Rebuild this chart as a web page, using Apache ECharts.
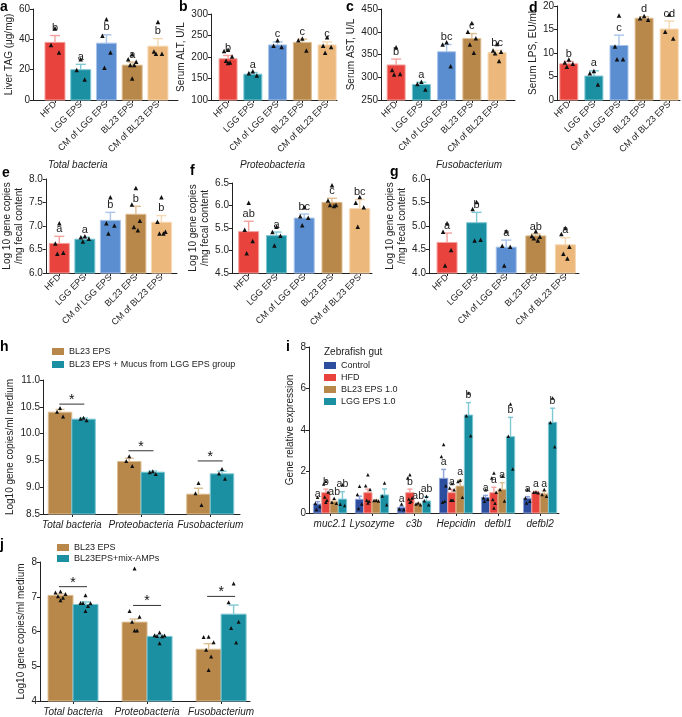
<!DOCTYPE html>
<html><head><meta charset="utf-8">
<script src="https://cdn.jsdelivr.net/npm/echarts@6/dist/echarts.min.js"></script>
<style>html,body{margin:0;padding:0;background:#fff}#c{width:682px;height:717px}</style>
</head><body><div id="c"></div>
<script>
// ---------- data ----------
const groups = ['HFD','LGG EPS','CM of LGG EPS','BL23 EPS','CM of BL23 EPS'];

const aMean = [38, 20, 37.5, 23, 35.5];
const aErr  = [4.5, 3.5, 5.5, 2, 5];
const aPts  = [[47,36,31],[26.5,19.5,13.2],[53,42,31,21],[29.8,26.5,25,22.7,22.7,13.9],[51.2,31.6,30.2,30.2]];
const aLet  = ['b','a','b','a','b'];

const bMean = [196, 160, 228, 234, 228];
const bErr  = [7.5, 4, 7, 7.5, 7];
const bPts  = [[216,213,200,190,186,185],[166,161,156],[238,225,222],[242,238,214],[245,225,222,209]];
const bLet  = ['b','a','c','c','c'];

const cMean = [327, 284, 356, 385, 354];
const cErr  = [13, 5, 16, 11, 5];
const cPts  = [[365,315,306,305],[289,284,272],[376,371,323],[418,399,385,371,353],[372,358,355,352,335]];
const cLet  = ['b','a','bc','c','bc'];

const dMean = [7.7, 5.1, 11.6, 17.4, 15.1];
const dErr  = [0.5, 1.1, 2.2, 0.35, 1.7];
const dPts  = [[8.5,7.9,7.6,7.0],[6.1,5.6,3.2],[17.9,11.3,8.6,8.6],[17.8,17.3,17.0],[18.1,14.4,13.0]];
const dLet  = ['b','a','c','d','cd'];

const eMean = [6.63, 6.72, 7.12, 7.25, 7.08];
const eErr  = [0.15, 0.04, 0.17, 0.17, 0.14];
const ePts  = [[7.05,6.62,6.42,6.40],[6.77,6.75,6.72,6.66],[7.6,7.05,7.0,6.83],[7.8,7.45,7.1,6.97,6.9],[7.6,7.08,6.87,6.83,6.83]];
const eLet  = ['a','a','b','b','b'];

const fMean = [5.42, 5.33, 5.72, 6.07, 5.93];
const fErr  = [0.23, 0.08, 0.09, 0.09, 0.2];
const fPts  = [[6.05,5.45,5.2,4.93],[5.52,5.4,5.32,5.1],[5.95,5.75,5.72,5.55],[6.44,6.1,6.0,6.0,5.98],[6.18,6.05,5.95,5.52]];
const fLet  = ['ab','a','bc','c','bc'];

const gMean = [4.65, 5.07, 4.55, 4.79, 4.6];
const gErr  = [0.2, 0.22, 0.15, 0.04, 0.15];
const gPts  = [[5.05,4.87,4.48,4.15],[5.5,5.35,4.7,4.68],[4.88,4.57,4.55,4.15],[4.88,4.78,4.76,4.73,4.68],[4.95,4.82,4.55,4.4,4.3]];
const gLet  = ['a','b','a','ab','a'];

const hCats   = ['Total bacteria','Proteobacteria','Fusobacterium'];
const hBl     = [10.40, 9.48, 8.87];
const hBlErr  = [0.05, 0.06, 0.11];
const hBlPts  = [[10.47,10.40,10.31],[9.57,9.48,9.39],[9.07,8.88,8.66]];
const hMu     = [10.27, 9.28, 9.25];
const hMuErr  = [0.02, 0.02, 0.05];
const hMuPts  = [[10.29,10.27,10.24],[9.29,9.27,9.24],[9.33,9.25,9.15]];
const hSig    = [10.55, 9.68, 9.49];

const iCats   = ['muc2.1','Lysozyme','c3b','Hepcidin','defbl1','defbl2'];
const iCtrl   = [0.43, 0.66, 0.26, 1.67, 0.75, 0.71];
const iCtrlErr= [0.12, 0.15, 0.06, 0.43, 0.10, 0.08];
const iCtrlPts= [[0.74,0.45,0.3,0.15],[1.27,0.87,0.42,0.2],[0.42,0.18,0.15],[3.28,2.71,1.3,0.5,0.55],[1.1,0.72,0.65,0.55],[1.11,0.71,0.55,0.47]];
const iCtrlLet= ['a','','a','a','a','a'];
const iHfd    = [0.98, 0.98, 0.98, 0.98, 0.98, 0.98];
const iHfdErr = [0.17, 0.17, 0.17, 0.15, 0.26, 0.06];
const iHfdPts = [[1.51,1.38,1.0,0.75,0.6,0.5],[1.83,1.3,1.11,0.6,0.55,0.47],[1.83,1.67,0.71,0.66,0.55,0.5],[1.4,1.19,1.1,0.6,0.6,0.6],[1.91,1.67,0.98,0.63,0.45,0.22],[1.0,0.98,0.96]];
const iHfdLet = ['b','','b','a','a','a'];
const iBl     = [0.55, 0.58, 0.42, 1.30, 1.14, 0.92];
const iBlErr  = [0.08, 0.05, 0.05, 0.29, 0.32, 0.12];
const iBlPts  = [[0.7,0.5,0.45],[0.6,0.58,0.56],[0.47,0.42,0.38],[1.56,1.5,0.74],[1.75,1.11,0.56],[1.11,0.87,0.79]];
const iBlLet  = ['ab','','ab','a','a','a'];
const iLgg    = [0.67, 0.87, 0.58, 4.72, 3.68, 4.37];
const iLggErr = [0.36, 0.29, 0.20, 0.60, 0.93, 0.68];
const iLggPts = [[1.35,0.4,0.35],[1.43,0.8,0.38],[0.79,0.57,0.38],[5.77,4.67,3.71],[5.24,3.68,2.1],[5.53,4.35,3.17]];
const iLggLet = ['ab','','ab','b','b','b'];

const jCats   = ['Total bacteria','Proteobacteria','Fusobacterium'];
const jBl     = [7.04, 6.27, 5.49];
const jBlErr  = [0.04, 0.09, 0.16];
const jBlPts  = [[7.14,7.11,7.07,7.0,6.96,6.89],[7.8,6.58,6.41,6.27,6.02,6.02],[5.84,5.83,5.68,5.46,5.27,4.88]];
const jMix    = [6.78, 5.86, 6.50];
const jMixErr = [0.07, 0.03, 0.26];
const jMixPts = [[7.03,6.81,6.8,6.81,6.72,6.58],[5.96,5.88,5.87,5.86,5.85,5.65],[7.37,6.83,6.27,6.09,5.67]];
const jSig    = [7.29, 6.75, 7.01];

// ---------- style ----------
const C = {red:'#E8443D', teal:'#1C90A3', blue:'#5B8ED0', tan:'#B8874A', peach:'#EDB87C', navy:'#2D4E9E'};
const L = {'#E8443D':'#F4A29E','#1C90A3':'#7FC8D4','#5B8ED0':'#A9C4EA','#B8874A':'#DEBE93','#EDB87C':'#F6D7B2','#2D4E9E':'#8DA2D8'};
const FONT = 'Liberation Sans, Arial, sans-serif';
const topCols = [C.red, C.teal, C.blue, C.tan, C.peach];

const grids = [
 {left:33, top:9, width:145, height:91},
 {left:211, top:14, width:126, height:86},
 {left:381, top:9, width:134, height:91},
 {left:557, top:6, width:123, height:94},
 {left:40, top:179, width:137, height:94},
 {left:232, top:183, width:140, height:90},
 {left:429, top:179, width:150, height:94},
 {left:43, top:380, width:197, height:134},
 {left:309, top:347, width:250, height:166},
 {left:40, top:562, width:210, height:144}
];
const xr = [[-0.854,4.78],[-0.69,4.40],[-0.6,4.71],[-0.47,4.43],[-0.53,4.61],[-0.6,4.44],[-0.61,4.46],[-0.416,2.43],[-0.5,5.45],[-0.446,2.39]];
const yr = [[0,60,20],[100,300,50],[250,450,50],[0,20,5],[6,8,0.5],[4.5,6.5,0.5],[4,6,0.5],[8.5,11,0.5],[0,8,2],[4,8,1]];
const yNames = ['Liver TAG (μg/mg)','Serum ALT, U/L','Serum AST, U/L','Serum LPS, EU/ml',
  'Log 10 gene copies\n/mg fecal content','Log 10 gene copies\n/mg fecal content','Log 10 gene copies\n/mg fecal content',
  'Log10 gene copies/ml medium','Gene relative expression','Log10 gene copies/ml medium'];
const nameGaps = [7,14,12,14,15,13,13,23,13,13];
const xCats = [groups,groups,groups,groups,groups,groups,groups,hCats,iCats,jCats];
const dec = [0,0,0,0,1,1,1,1,0,0];

const xAxes = grids.map((g,k)=>{
  const cats = xCats[k];
  const vals = cats.map((c,i)=>i);
  const rot = k < 7;
  return {type:'value', gridIndex:k, min:xr[k][0], max:xr[k][1], splitLine:{show:false},
    axisLine:{onZero:false, lineStyle:{color:'#222', width:1}},
    axisTick:{show:true, customValues:vals, length:3, lineStyle:{color:'#222'}},
    axisLabel:{customValues:vals, color:'#222', fontFamily:FONT, fontSize: rot?9:10, margin: rot?3:6,
      rotate: rot?45:0, fontStyle: rot?'normal':'italic',
      formatter:v=>{const c=cats[Math.round(v)]; return (Math.abs(v-Math.round(v))<1e-6 && c)?c:'';}}};
});
const yAxes = grids.map((g,k)=>({type:'value', gridIndex:k, min:yr[k][0], max:yr[k][1], interval:yr[k][2],
  splitLine:{show:false},
  axisLine:{show:true, onZero:false, lineStyle:{color:'#222', width:1}},
  axisTick:{show:true, length:3, lineStyle:{color:'#222'}},
  axisLabel:{color:'#222', fontFamily:FONT, fontSize:10, margin:3, formatter:v=>v.toFixed(dec[k])},
  name:yNames[k], nameLocation:'middle', nameGap:nameGaps[k],
  nameTextStyle:{color:'#222', fontFamily:FONT, fontSize:10, lineHeight:12}}));

// ---------- series builders ----------
function colorOf(colors,i){return Array.isArray(colors)?colors[i]:colors;}
function mkBars(g,name,vals,colors,w,off,base){
  return {type:'custom', name, xAxisIndex:g, yAxisIndex:g, z:2, silent:true,
    itemStyle:{color:colorOf(colors,0)},
    data: vals.map((v,i)=>[i,v]), encode:{x:0,y:1},
    renderItem:(p,api)=>{
      const i=api.value(0), v=api.value(1);
      const t=api.coord([i,v]), b=api.coord([i,base]);
      const col=colorOf(colors,i);
      return {type:'rect', shape:{x:t[0]+off-w/2, y:t[1], width:w, height:b[1]-t[1]},
        style:{fill:col, stroke:L[col], lineWidth:1}};
    }};
}
function mkErr(g,vals,errs,colors,off,cap){
  return {type:'custom', xAxisIndex:g, yAxisIndex:g, z:3, silent:true,
    data: vals.map((v,i)=>[i,v,errs[i]]), encode:{x:0,y:1},
    renderItem:(p,api)=>{
      const i=api.value(0), v=api.value(1), e=api.value(2);
      const t=api.coord([i,v]), u=api.coord([i,v+e]);
      const x=t[0]+off, col=L[colorOf(colors,i)];
      const st={stroke:col, lineWidth:1.4};
      return {type:'group', children:[
        {type:'line', shape:{x1:x,y1:t[1],x2:x,y2:u[1]}, style:st},
        {type:'line', shape:{x1:x-cap/2,y1:u[1],x2:x+cap/2,y2:u[1]}, style:st}]};
    }};
}
function jit(j,n){
  if(n<=1) return 0;
  const pat=[0,-1,1,-0.5,0.5,0,-1,1];
  return pat[j%pat.length];
}
function mkPts(g,pts,off,step,size){
  return {type:'custom', xAxisIndex:g, yAxisIndex:g, z:4, silent:true,
    data: pts.flatMap((arr,i)=>arr.map((v,j)=>[i,v,j,arr.length])), encode:{x:0,y:1},
    renderItem:(p,api)=>{
      const i=api.value(0), v=api.value(1), j=api.value(2), n=api.value(3);
      const c=api.coord([i,v]);
      const x=c[0]+off+jit(j,n)*step, y=c[1];
      return {type:'polygon', shape:{points:[[x,y-size*0.6],[x-size/2,y+size*0.4],[x+size/2,y+size*0.4]]},
        style:{fill:'#111'}};
    }};
}
function mkLet(g,vals,errs,lets,off,fs){
  return {type:'custom', xAxisIndex:g, yAxisIndex:g, z:5, silent:true,
    data: vals.map((v,i)=>[i,v+errs[i]]), encode:{x:0,y:1},
    renderItem:(p,api)=>{
      const i=api.value(0), v=api.value(1);
      const c=api.coord([i,v]);
      return {type:'text', x:c[0]+off, y:c[1]-2,
        style:{text:lets[i], fill:'#222', fontSize:fs, fontFamily:FONT,
          align:'center', verticalAlign:'bottom', textAlign:'center', textVerticalAlign:'bottom'}};
    }};
}
function mkSig(g,ys,half){
  return {type:'custom', xAxisIndex:g, yAxisIndex:g, z:5, silent:true,
    data: ys.map((v,i)=>[i,v]), encode:{x:0,y:1},
    renderItem:(p,api)=>{
      const i=api.value(0), v=api.value(1);
      const c=api.coord([i,v]);
      return {type:'group', children:[
        {type:'line', shape:{x1:c[0]-half,y1:c[1],x2:c[0]+half,y2:c[1]}, style:{stroke:'#333', lineWidth:1}},
        {type:'text', x:c[0], y:c[1]+3, style:{text:'*', fill:'#111', fontSize:14, fontFamily:FONT,
          align:'center', verticalAlign:'bottom', textAlign:'center', textVerticalAlign:'bottom'}}]};
    }};
}

const series = [];
const topPanels = [
 [aMean,aErr,aPts,aLet,20],[bMean,bErr,bPts,bLet,18],[cMean,cErr,cPts,cLet,18],[dMean,dErr,dPts,dLet,18],
 [eMean,eErr,ePts,eLet,20],[fMean,fErr,fPts,fLet,20],[gMean,gErr,gPts,gLet,20]];
topPanels.forEach((pn,k)=>{
  const [m,e,pts,lets,w]=pn;
  series.push(mkBars(k,'p'+k,m,topCols,w,0,yr[k][0]));
  series.push(mkErr(k,m,e,topCols,0,10));
  series.push(mkPts(k,pts,0,4,4.5));
  series.push(mkLet(k,m,e,lets,0,11));
});
// h
const hw=23.5;
series.push(mkBars(7,'BL23 EPS',hBl,C.tan,hw,-hw/2,8.5));
series.push(mkBars(7,'BL23 EPS + Mucus from LGG EPS group',hMu,C.teal,hw,hw/2,8.5));
series.push(mkErr(7,hBl,hBlErr,C.tan,-hw/2,9));
series.push(mkErr(7,hMu,hMuErr,C.teal,hw/2,9));
series.push(mkPts(7,hBlPts,-hw/2,3,4));
series.push(mkPts(7,hMuPts,hw/2,3,4));
series.push(mkSig(7,hSig,12.5));
// i
const iw=8.3;
const iSets=[['Control',iCtrl,iCtrlErr,iCtrlPts,iCtrlLet,C.navy],['HFD',iHfd,iHfdErr,iHfdPts,iHfdLet,C.red],
  ['BL23 EPS 1.0',iBl,iBlErr,iBlPts,iBlLet,C.tan],['LGG EPS 1.0',iLgg,iLggErr,iLggPts,iLggLet,C.teal]];
iSets.forEach((s,q)=>{
  const off=(q-1.5)*iw;
  series.push(mkBars(8,s[0],s[1],s[5],iw,off,0));
  series.push(mkErr(8,s[1],s[2],s[5],off,5));
  series.push(mkPts(8,s[3],off,2.2,3.5));
  series.push(mkLet(8,s[1],s[2],s[4],off,10.5));
});
// j
const jw=25;
series.push(mkBars(9,'BL23 EPS',jBl,C.tan,jw,-jw/2,4));
series.push(mkBars(9,'BL23EPS+mix-AMPs',jMix,C.teal,jw,jw/2,4));
series.push(mkErr(9,jBl,jBlErr,C.tan,-jw/2,10));
series.push(mkErr(9,jMix,jMixErr,C.teal,jw/2,10));
series.push(mkPts(9,jBlPts,-jw/2,5,4));
series.push(mkPts(9,jMixPts,jw/2,5,4));
series.push(mkSig(9,jSig,14));

const letter=(t,l,tp)=>({text:t,left:l,top:tp,padding:0,textStyle:{fontSize:14,fontWeight:'bold',color:'#000',fontFamily:FONT}});
const sub=(t,l,tp)=>({text:t,left:l,top:tp,padding:0,textStyle:{fontSize:10,fontWeight:'normal',fontStyle:'italic',color:'#222',fontFamily:FONT}});
const legItem=(n,c)=>({name:n,itemStyle:{color:c}});
const legBase={orient:'vertical',padding:0,icon:'rect',itemWidth:12,itemHeight:7,selectedMode:false,
  textStyle:{fontSize:9,color:'#222',fontFamily:FONT}};

const option = {
  animation:false,
  textStyle:{fontFamily:FONT},
  title:[letter('a',0,0),letter('b',179,0),letter('c',346,0),letter('d',529,1),
    letter('e',2,166),letter('f',190,164),letter('g',390,165),letter('h',0,340),letter('i',286,340),letter('j',0,538),
    sub('Total bacteria',48,160),sub('Proteobacteria',240,160),sub('Fusobacterium',436,160),
    {text:'Zebrafish gut',left:324,top:347,padding:0,textStyle:{fontSize:10,fontWeight:'normal',color:'#222',fontFamily:FONT}}],
  legend:[
    Object.assign({left:52,top:347,itemGap:4,data:[legItem('BL23 EPS',C.tan),legItem('BL23 EPS + Mucus from LGG EPS group',C.teal)]},legBase),
    Object.assign({left:324,top:361,itemGap:3,data:[legItem('Control',C.navy),legItem('HFD',C.red),legItem('BL23 EPS 1.0',C.tan),legItem('LGG EPS 1.0',C.teal)]},legBase),
    Object.assign({left:57,top:543,itemGap:2,data:[legItem('BL23 EPS',C.tan),legItem('BL23EPS+mix-AMPs',C.teal)]},legBase)
  ],
  grid:grids,
  xAxis:xAxes,
  yAxis:yAxes,
  series
};
const chart = echarts.init(document.getElementById('c'),null,{renderer:'canvas'});
chart.setOption(option);
</script></body></html>
